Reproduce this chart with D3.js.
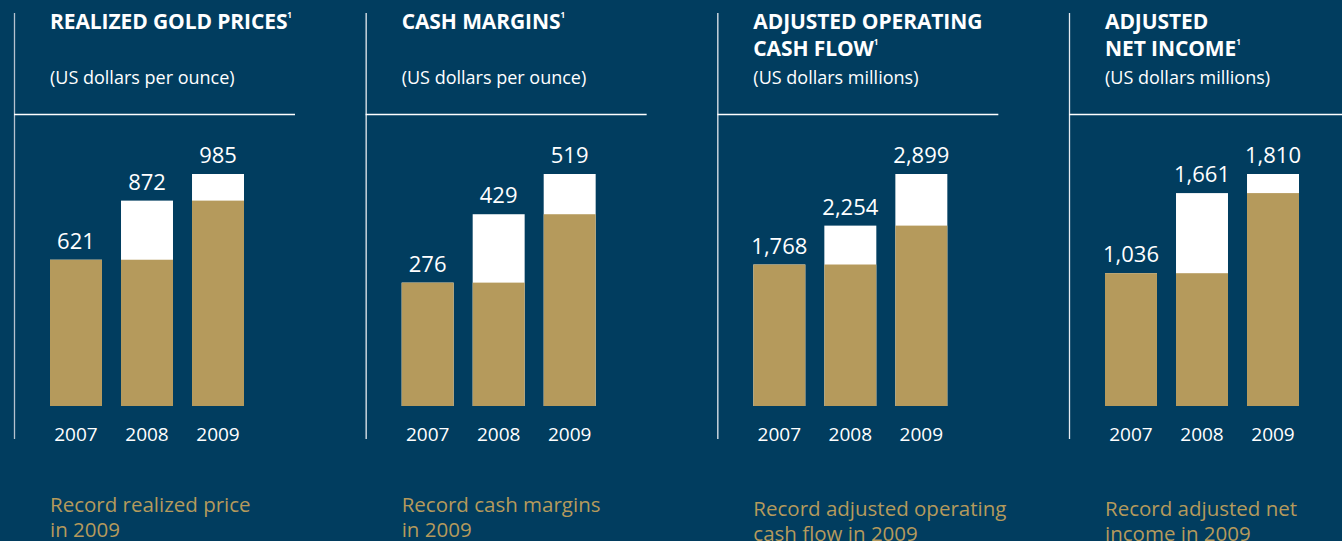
<!DOCTYPE html>
<html>
<head>
<meta charset="utf-8">
<script src="https://cdn.jsdelivr.net/npm/d3@7"></script>
<style>
  html, body { margin: 0; padding: 0; background: #013d5f; overflow: hidden; }
  text { font-family: "Open Sans", "Noto Sans", sans-serif; }
</style>
</head>
<body>
<svg id="chart"></svg>
<script>
const years = ["2007", "2008", "2009"];

const titles = [
  ["REALIZED GOLD PRICES"],
  ["CASH MARGINS"],
  ["ADJUSTED OPERATING", "CASH FLOW"],
  ["ADJUSTED", "NET INCOME"]
];
const subtitles = [
  "(US dollars per ounce)",
  "(US dollars per ounce)",
  "(US dollars millions)",
  "(US dollars millions)"
];
const goldPrices = [621, 872, 985];
const cashMargins = [276, 429, 519];
const operatingCashFlow = [1768, 2254, 2899];
const netIncome = [1036, 1661, 1810];
const notes = [
  ["Record realized price", "in 2009"],
  ["Record cash margins", "in 2009"],
  ["Record adjusted operating", "cash flow in 2009"],
  ["Record adjusted net", "income in 2009"]
];

const series = [goldPrices, cashMargins, operatingCashFlow, netIncome];

const width = 1342, height = 541;
const gold = "#b59a5c";
const fmt = d3.format(",");

const svg = d3.select("#chart").attr("width", width).attr("height", height);

svg.append("rect").attr("width", width).attr("height", height).attr("fill", "#013d5f");

// panel origins along x
const px = d3.scalePoint().domain(d3.range(4)).range([14, 1069]);

const baseY = 406, topY = 174;

series.forEach((vals, i) => {
  const g = svg.append("g").attr("transform", `translate(${px(i)},0)`);

  g.append("line")
    .attr("x1", 0.5).attr("x2", 0.5).attr("y1", 13).attr("y2", 439)
    .attr("stroke", i === 0 ? "#b5c2cf" : "#e6ebf0").attr("stroke-width", 1.3);

  g.append("line")
    .attr("x1", 0).attr("x2", 281).attr("y1", 114.5).attr("y2", 114.5)
    .attr("stroke", "#ffffff").attr("stroke-width", 1.3);

  // title
  const t = g.append("text")
    .attr("x", 36).attr("y", 29)
    .attr("fill", "#fff").attr("font-size", 21).attr("font-weight", 700)
    .attr("letter-spacing", -0.1);
  titles[i].forEach((line, k) => {
    const ts = t.append("tspan").attr("x", 36).attr("dy", k === 0 ? 0 : 27).text(line);
    if (k === titles[i].length - 1) {
      ts.append("tspan").attr("font-size", 8).attr("dy", -11).text("1");
    }
  });

  g.append("text")
    .attr("x", 36).attr("y", 84)
    .attr("fill", "#fff").attr("font-size", 18)
    .text(subtitles[i]);

  const x = d3.scaleBand().domain(years).range([36, 230]).paddingInner(0.268).paddingOuter(0);
  const y = d3.scaleLinear().domain([0, d3.max(vals)]).range([baseY, topY]);

  const bars = g.append("g").selectAll("g").data(vals).enter().append("g");

  // white increase over previous year
  bars.append("rect")
    .attr("x", (d, j) => x(years[j]))
    .attr("width", x.bandwidth())
    .attr("y", d => y(d))
    .attr("height", d => baseY - y(d))
    .attr("fill", "#fff");

  // gold portion up to previous year's level
  bars.append("rect")
    .attr("x", (d, j) => x(years[j]))
    .attr("width", x.bandwidth())
    .attr("y", (d, j) => y(j === 0 ? d : vals[j - 1]))
    .attr("height", (d, j) => baseY - y(j === 0 ? d : vals[j - 1]))
    .attr("fill", gold);

  bars.append("text")
    .attr("x", (d, j) => x(years[j]) + x.bandwidth() / 2)
    .attr("y", d => y(d) - 11)
    .attr("text-anchor", "middle")
    .attr("fill", "#fff").attr("font-size", 22)
    .text(d => fmt(d));

  g.append("g").selectAll("text").data(years).enter().append("text")
    .attr("x", d => x(d) + x.bandwidth() / 2)
    .attr("y", 441)
    .attr("text-anchor", "middle")
    .attr("fill", "#fff").attr("font-size", 19)
    .text(d => d);

  const n = g.append("text")
    .attr("x", 36).attr("y", i < 2 ? 512 : 516)
    .attr("fill", gold).attr("font-size", 20.5);
  notes[i].forEach((line, k) => {
    n.append("tspan").attr("x", 36).attr("dy", k === 0 ? 0 : 25).text(line);
  });
});
</script>
</body>
</html>
